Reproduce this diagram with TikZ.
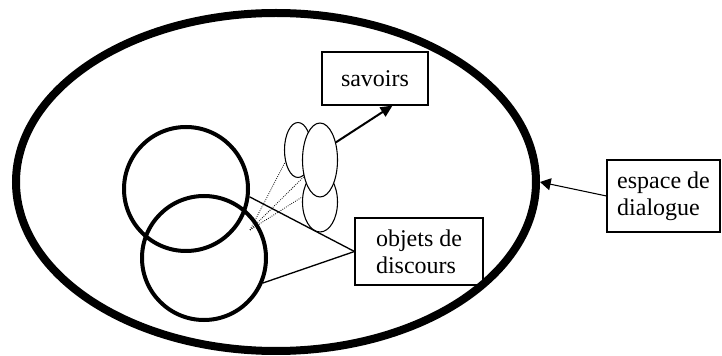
\documentclass[tikz,border=0pt]{standalone}
\usepackage{fontspec}
\setmainfont{Liberation Serif}
\usetikzlibrary{shapes,shapes.geometric,arrows.meta,positioning,calc}

\begin{document}
\begin{tikzpicture}[
    x=0.75pt, y=-0.75pt,
    every node/.style={font=\fontsize{18}{20.25}\selectfont},
    box/.style={rectangle, draw, line width=0.8pt, align=left},
    ring/.style={circle, draw, line width=3pt, minimum size=93pt, inner sep=0pt},
    blob/.style={ellipse, draw, line width=0.8pt, fill=white, inner sep=0pt},
    hint/.style={densely dotted, line width=0.6pt},
    link/.style={line width=1pt}
]
    \useasboundingbox (0,0) rectangle (722,356);

    % espace de dialogue
    \node[ellipse, draw, line width=6pt, minimum width=390pt, minimum height=253.5pt, inner sep=0pt] (space) at (276,182) {};

    % deux interlocuteurs
    \node[ring] (c1) at (186,189) {};
    \node[ring] (c2) at (204,258) {};

    % savoirs mobilises
    \node[blob, minimum width=20.25pt, minimum height=41.25pt] (kA) at (298,150) {};
    \node[blob, minimum width=26.25pt, minimum height=45pt] (kC) at (320,202) {};
    \node[blob, minimum width=26.25pt, minimum height=55.5pt] (kB) at (320,160) {};

    \coordinate (hub) at (250,230);
    \foreach \e/\a in {kA/223, kB/226, kC/164} {
        \draw[hint] (hub) -- (\e.\a);
    }

    \node[box, minimum width=79.5pt, minimum height=39.75pt, align=center] (savoirs) at (375,78.5) {savoirs};
    \node[box, minimum width=96pt, minimum height=50.25pt] (objets) at (419,251.5) {objets de\\discours};
    \node[box, minimum width=84.75pt, minimum height=54pt] (espace) at (663.5,196) {espace de\\dialogue};

    \draw[link] (c1.-7) -- (objets.west);
    \draw[link] (c2.-23) -- (objets.west);
    \draw[line width=1.5pt, -{Triangle[length=9pt,width=8pt]}] (kB.48) -- (savoirs.303);
    \draw[line width=0.8pt, -{Triangle[length=8pt,width=9pt]}] (espace.west) -- (space.east);

\end{tikzpicture}
\end{document}
